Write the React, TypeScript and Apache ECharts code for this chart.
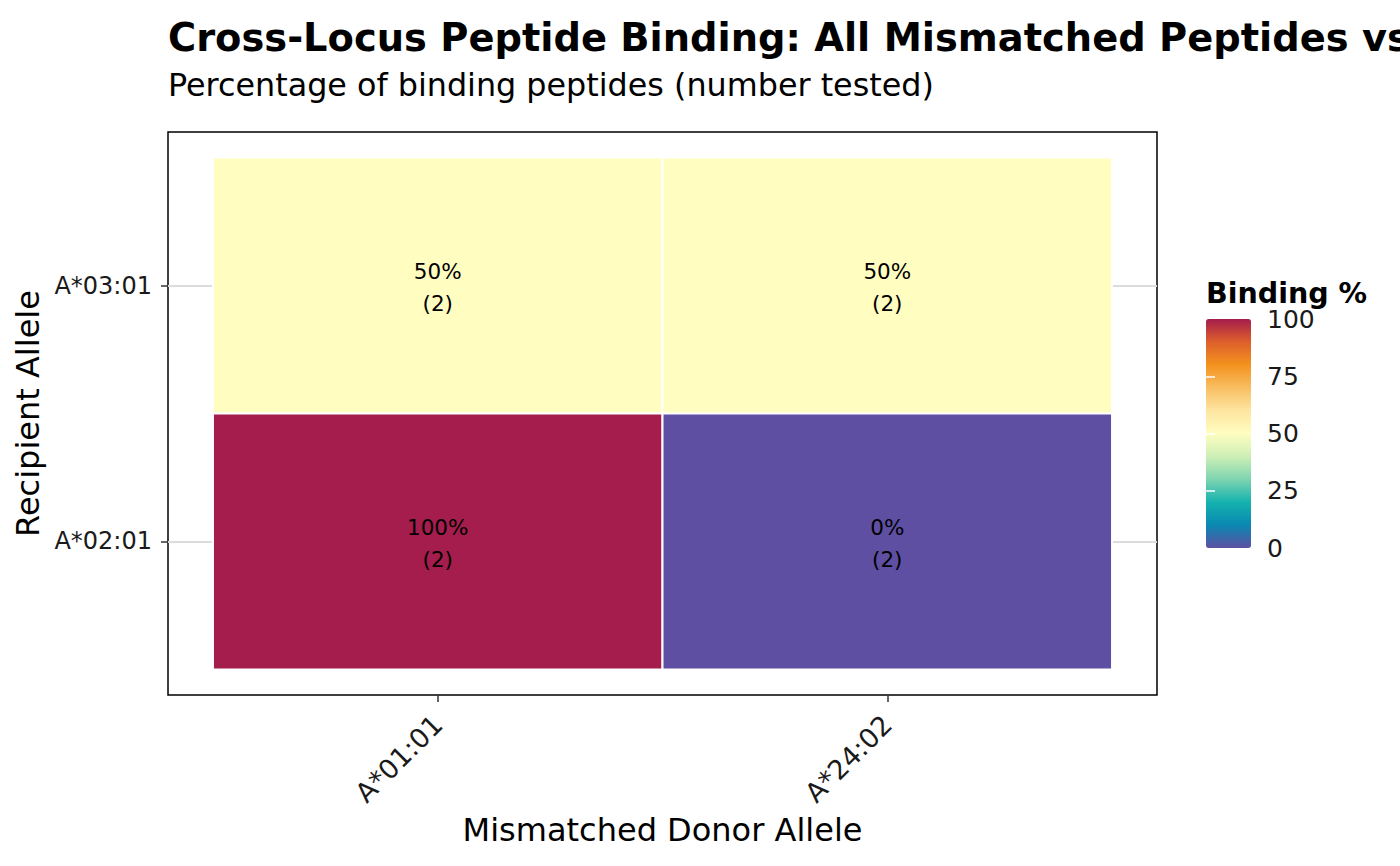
import React, { useEffect, useRef } from "react";
import * as echarts from "echarts";

const FONT = "DejaVu Sans";

// categories
const donorAlleles = ["A*01:01", "A*24:02"];
const recipientAlleles = ["A*02:01", "A*03:01"]; // bottom to top

// cells
const cellDonor = ["A*01:01", "A*24:02", "A*01:01", "A*24:02"];
const cellRecipient = ["A*03:01", "A*03:01", "A*02:01", "A*02:01"];
const cellBindingPct = [50, 50, 100, 0];
const cellTested = [2, 2, 2, 2];

// colour scale ticks
const legendTicks = [0, 25, 50, 75, 100];
const colorStops = [
  "#5E4FA2",
  "#0A88B2",
  "#14B2AE",
  "#7ED4B0",
  "#CDEFB6",
  "#FFFDC0",
  "#FDE5A0",
  "#F9BE62",
  "#F3921E",
  "#DE5F2B",
  "#A41D4C",
];

export default function App() {
  const ref = useRef<HTMLDivElement>(null);

  useEffect(() => {
    if (!ref.current) return;
    const chart = echarts.init(ref.current, undefined, { renderer: "svg" });

    const data = cellDonor.map((d, i) => [
      donorAlleles.indexOf(d) + 1,
      recipientAlleles.indexOf(cellRecipient[i]) + 1,
      cellBindingPct[i],
      cellTested[i],
    ]);

    const catIdx = (arr: string[]) => arr.map((_, i) => i + 1);

    const option: any = {
      animation: false,
      backgroundColor: "#fff",
      textStyle: { fontFamily: FONT },
      title: [
        {
          text: "Cross-Locus Peptide Binding: All Mismatched Peptides vs",
          subtext: "Percentage of binding peptides (number tested)",
          left: 168,
          top: 17,
          padding: 0,
          itemGap: 11,
          textStyle: {
            fontFamily: FONT,
            fontSize: 38.4,
            fontWeight: "bold",
            color: "#000",
            lineHeight: 40,
          },
          subtextStyle: {
            fontFamily: FONT,
            fontSize: 31.8,
            color: "#000",
            lineHeight: 32,
          },
        },
        {
          text: "Binding %",
          left: 1206,
          top: 278,
          padding: 0,
          textStyle: {
            fontFamily: FONT,
            fontSize: 28.5,
            fontWeight: "bold",
            color: "#000",
            lineHeight: 30,
          },
        },
      ],
      grid: [
        {
          left: 168,
          top: 132,
          width: 989,
          height: 563,
          show: true,
          borderColor: "#000",
          borderWidth: 1.5,
          backgroundColor: "transparent",
        },
        { left: 1206, top: 319, width: 45, height: 229, show: false },
      ],
      xAxis: [
        {
          type: "value",
          gridIndex: 0,
          min: 0.4,
          max: 2.6,
          name: "Mismatched Donor Allele",
          nameLocation: "middle",
          nameGap: 118,
          nameTextStyle: { fontFamily: FONT, fontSize: 32, color: "#000" },
          axisLine: { show: false },
          axisTick: {
            show: true,
            length: 7,
            lineStyle: { color: "#333", width: 1.5 },
            customValues: catIdx(donorAlleles),
          },
          axisLabel: {
            customValues: catIdx(donorAlleles),
            formatter: (v: number) => donorAlleles[Math.round(v) - 1] ?? "",
            rotate: 45,
            margin: 25,
            fontFamily: FONT,
            fontSize: 27,
            color: "#1a1a1a",
          },
          splitLine: { show: false },
        },
        { type: "value", gridIndex: 1, show: false, min: 0, max: 1 },
      ],
      yAxis: [
        {
          type: "value",
          gridIndex: 0,
          min: 0.4,
          max: 2.6,
          name: "Recipient Allele",
          nameLocation: "middle",
          nameGap: 122,
          nameTextStyle: { fontFamily: FONT, fontSize: 32, color: "#000" },
          axisLine: { show: false },
          axisTick: {
            show: true,
            length: 7,
            lineStyle: { color: "#333", width: 1.5 },
            customValues: catIdx(recipientAlleles),
          },
          axisLabel: {
            customValues: catIdx(recipientAlleles),
            formatter: (v: number) => recipientAlleles[Math.round(v) - 1] ?? "",
            margin: 16,
            fontFamily: FONT,
            fontSize: 24,
            color: "#1a1a1a",
          },
          splitLine: {
            show: true,
            lineStyle: { color: "#DCDCDC", width: 2 },
          },
        },
        {
          type: "value",
          gridIndex: 1,
          min: legendTicks[0],
          max: legendTicks[legendTicks.length - 1],
          interval: 25,
          position: "right",
          z: 10,
          axisLine: { show: false },
          axisTick: {
            show: true,
            inside: true,
            length: 9,
            lineStyle: { color: "#fff", width: 1.5 },
            customValues: legendTicks.slice(1, -1),
          },
          axisLabel: {
            margin: 16,
            fontFamily: FONT,
            fontSize: 25,
            color: "#1a1a1a",
          },
          splitLine: { show: false },
        },
        {
          type: "value",
          gridIndex: 1,
          min: legendTicks[0],
          max: legendTicks[legendTicks.length - 1],
          interval: 25,
          position: "left",
          z: 10,
          axisLine: { show: false },
          axisTick: {
            show: true,
            inside: true,
            length: 9,
            lineStyle: { color: "#fff", width: 1.5 },
            customValues: legendTicks.slice(1, -1),
          },
          axisLabel: { show: false },
          splitLine: { show: false },
        },
      ],
      visualMap: {
        type: "continuous",
        min: 0,
        max: 100,
        seriesIndex: 0,
        dimension: 2,
        left: 1206,
        top: 319,
        itemWidth: 45,
        itemHeight: 229,
        padding: 0,
        calculable: false,
        hoverLink: false,
        inRange: { color: colorStops },
      },
      series: [
        {
          type: "custom",
          xAxisIndex: 0,
          yAxisIndex: 0,
          data,
          renderItem: (params: any, api: any) => {
            const x = api.value(0);
            const y = api.value(1);
            const p0 = api.coord([x - 0.5, y + 0.5]);
            const s = api.size([1, 1]);
            return {
              type: "group",
              children: [
                {
                  type: "rect",
                  shape: { x: p0[0], y: p0[1], width: s[0], height: s[1] },
                  style: { fill: api.visual("color"), stroke: "#fff", lineWidth: 2 },
                },
                {
                  type: "text",
                  x: p0[0] + s[0] / 2,
                  y: p0[1] + s[1] / 2 + 2,
                  style: {
                    text: `${api.value(2)}%\n(${api.value(3)})`,
                    align: "center",
                    verticalAlign: "middle",
                    fontFamily: FONT,
                    fontSize: 21.5,
                    lineHeight: 32,
                    fill: "#000",
                  },
                },
              ],
            };
          },
        },
      ],
    };

    chart.setOption(option);
    return () => chart.dispose();
  }, []);

  return (
    <div
      ref={ref}
      style={{ position: "fixed", left: 0, top: 0, width: 1400, height: 866 }}
    />
  );
}
